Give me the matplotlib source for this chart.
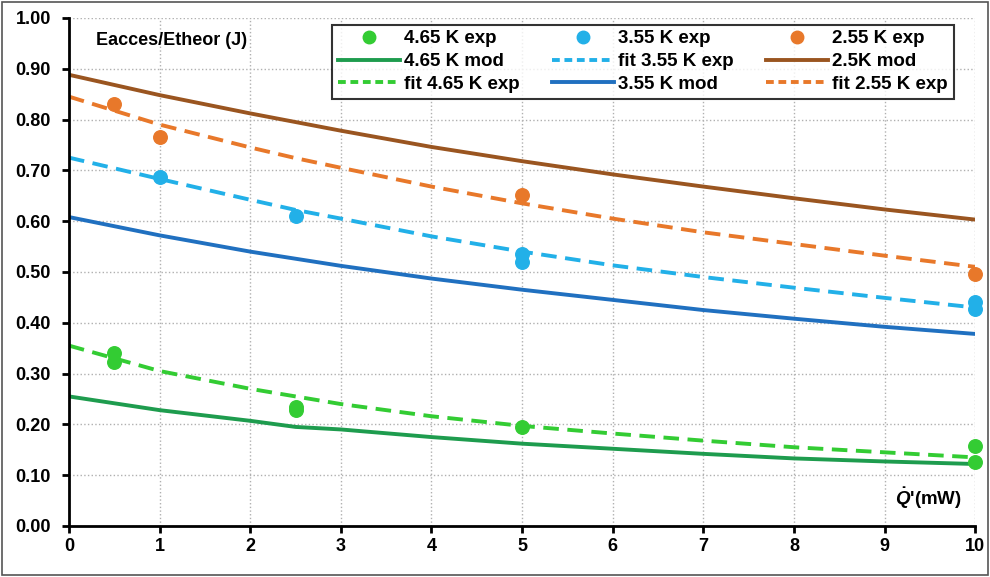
import numpy as np
import matplotlib.pyplot as plt
from matplotlib.lines import Line2D
from matplotlib.patches import Rectangle

plt.rcParams['font.family'] = ['Liberation Sans', 'DejaVu Sans']
plt.rcParams['font.weight'] = 'bold'
plt.rcParams['mathtext.fontset'] = 'custom'
plt.rcParams['mathtext.it'] = 'Liberation Sans:bold:italic'
plt.rcParams['mathtext.rm'] = 'Liberation Sans:bold'

# curves
x_curve = [0, 1, 2, 2.5, 3, 4, 5, 6, 7, 8, 9, 10]
mod_465 = [0.255, 0.228, 0.207, 0.195, 0.190, 0.175, 0.162, 0.152, 0.142, 0.133, 0.127, 0.122]
fit_465 = [0.355, 0.305, 0.270, 0.255, 0.240, 0.216, 0.197, 0.182, 0.168, 0.155, 0.145, 0.135]
mod_355 = [0.608, 0.572, 0.540, 0.526, 0.512, 0.487, 0.465, 0.445, 0.425, 0.408, 0.392, 0.378]
fit_355 = [0.725, 0.683, 0.642, 0.622, 0.605, 0.570, 0.540, 0.513, 0.490, 0.469, 0.449, 0.430]
mod_25 = [0.888, 0.848, 0.812, 0.795, 0.778, 0.746, 0.718, 0.692, 0.668, 0.645, 0.623, 0.603]
fit_255 = [0.845, 0.790, 0.745, 0.724, 0.705, 0.668, 0.635, 0.605, 0.578, 0.555, 0.532, 0.510]

# experimental points
x_465 = [0.5, 0.5, 2.5, 2.5, 5, 10, 10]
y_465 = [0.340, 0.322, 0.235, 0.228, 0.195, 0.157, 0.125]
x_355 = [1, 2.5, 5, 5, 10, 10]
y_355 = [0.687, 0.610, 0.535, 0.520, 0.440, 0.428]
x_255 = [0.5, 1, 5, 10]
y_255 = [0.830, 0.765, 0.652, 0.495]

c_green = '#33cc33'
c_green_mod = '#1e9c4e'
c_blue = '#22b0e8'
c_blue_mod = '#2070c0'
c_orange = '#e8782a'
c_brown = '#9a5520'

fig = plt.figure(figsize=(9.9, 5.77), dpi=100)
ax = fig.add_axes([0.0697, 0.0884, 0.9153, 0.8806])

ls_dash = (0, (4, 2.2))
ax.plot(x_curve, mod_25, color=c_brown, lw=2.8)
ax.plot(x_curve, fit_255, color=c_orange, lw=2.8, ls=ls_dash)
ax.plot(x_curve, fit_355, color=c_blue, lw=2.8, ls=ls_dash)
ax.plot(x_curve, mod_355, color=c_blue_mod, lw=2.8)
ax.plot(x_curve, fit_465, color=c_green, lw=2.8, ls=ls_dash)
ax.plot(x_curve, mod_465, color=c_green_mod, lw=2.8)
ax.scatter(x_255, y_255, s=95, color=c_orange, zorder=5, clip_on=False)
ax.scatter(x_355, y_355, s=95, color=c_blue, zorder=5, clip_on=False)
ax.scatter(x_465, y_465, s=95, color=c_green, zorder=5, clip_on=False)

ax.set_xlim(0, 10)
ax.set_ylim(0, 1.0)
ax.set_xticks(np.arange(0, 11, 1))
ax.set_yticks(np.arange(0, 1.01, 0.1))
ax.set_yticklabels([f'{v:.2f}' for v in np.arange(0, 1.01, 0.1)])
ax.grid(True, ls=':', color='#b0b0b0', lw=1)
ax.set_axisbelow(True)
for s in ['top', 'right']:
    ax.spines[s].set_visible(False)
for s in ['left', 'bottom']:
    ax.spines[s].set_linewidth(2)
ax.tick_params(width=2, length=5, labelsize=13)
ax.tick_params(axis='y', pad=8)

ax.text(0.03, 0.955, 'Eacces/Etheor (J)', transform=ax.transAxes,
        fontsize=13, fontweight='bold', va='center', ha='left')
ax.text(0.985, 0.055, r"$\dot{Q}$'(mW)", transform=ax.transAxes, fontsize=13.5,
        fontweight='bold', va='center', ha='right')

def dash(c):
    return Line2D([], [], color=c, lw=2.8, ls=(0, (2, 1.2)))

def solid(c):
    return Line2D([], [], color=c, lw=2.8)

def dot(c):
    return Line2D([], [], color=c, marker='o', ms=9, ls='none')

handles = [dot(c_green), solid(c_green_mod), dash(c_green),
           dot(c_blue), dash(c_blue), solid(c_blue_mod),
           dot(c_orange), solid(c_brown), dash(c_orange)]
labels = ['4.65 K exp', '4.65 K mod', 'fit 4.65 K exp',
          '3.55 K exp', 'fit 3.55 K exp', '3.55 K mod',
          '2.55 K exp', '2.5K mod', 'fit 2.55 K exp']
leg = ax.legend(handles, labels, ncol=3, loc='upper left',
                bbox_to_anchor=(0.28, 1.005), fontsize=13.5, frameon=True,
                fancybox=False, edgecolor='black', handlelength=3.3,
                handletextpad=0.25, columnspacing=1.7, labelspacing=0.3,
                borderpad=0.3)
leg.get_frame().set_linewidth(1.5)

fig.patches.append(Rectangle((0.002, 0.003), 0.996, 0.994, transform=fig.transFigure,
                             fill=False, edgecolor='#555555', lw=1.2))

fig.savefig('out.png', dpi=100)
